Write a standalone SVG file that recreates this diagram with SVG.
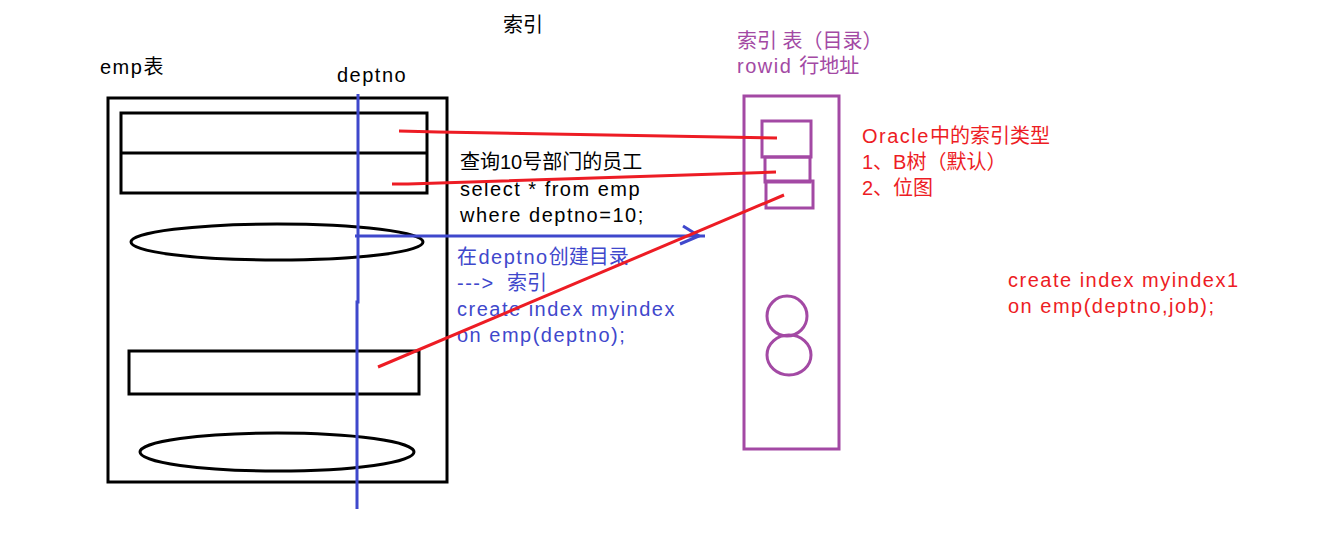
<svg xmlns="http://www.w3.org/2000/svg" width="1343" height="534" viewBox="0 0 1343 534">
<style>
text{font-family:"Liberation Sans","Noto Sans CJK SC",sans-serif;font-size:20px}
.lat{letter-spacing:1.5px}
.blk{fill:#000}
.pur{fill:#a349a4}
.red{fill:#ed1c24}
.blu{fill:#3f48cc}
.bs{fill:none;stroke:#000;stroke-width:3}
.ps{fill:none;stroke:#a349a4;stroke-width:3}
.rl{fill:none;stroke:#ed1c24;stroke-width:3}
.bl{fill:none;stroke:#3f48cc;stroke-width:3}
</style>
<rect width="1343" height="534" fill="#fff"/>
<g id="title"><text class="blk" x="503" y="32">索引</text></g>
<g id="emp-table">
<text class="blk lat" x="100" y="74">emp表</text>
<rect class="bs" x="108" y="98" width="339" height="384"/>
<rect class="bs" x="121" y="113" width="306" height="80"/>
<line class="bs" x1="121" y1="153" x2="427" y2="153"/>
<ellipse class="bs" cx="277" cy="242" rx="146" ry="18"/>
<rect class="bs" x="129" y="351" width="290" height="43"/>
<ellipse class="bs" cx="277" cy="452" rx="137" ry="19"/>
</g>
<g id="deptno-label"><text class="blk lat" x="337" y="82">deptno</text></g>
<g id="query-text">
<text class="blk" x="460" y="169">查询10号部门的员工</text>
<text class="blk lat" x="460" y="196">select * from emp</text>
<text class="blk lat" x="460" y="222">where deptno=10;</text>
</g>
<g id="create-text">
<text class="blu" x="457" y="264"><tspan class="lat">在deptno</tspan>创建目录</text>
<text class="blu" x="457" y="290"><tspan class="lat">---&gt;</tspan><tspan x="507">索引</tspan></text>
<text class="blu lat" x="457" y="316">create index myindex</text>
<text class="blu lat" x="457" y="342">on emp(deptno);</text>
</g>
<g id="index-table">
<text class="pur" x="737" y="48">索引 表（目录）</text>
<text class="pur" x="737" y="73"><tspan class="lat">rowid </tspan>行地址</text>
<rect class="ps" x="744" y="96" width="95" height="353"/>
<rect class="ps" x="762" y="121" width="49" height="36"/>
<rect class="ps" x="765" y="157" width="45" height="25"/>
<rect class="ps" x="766" y="181" width="47" height="27"/>
<ellipse class="ps" cx="787" cy="316" rx="20" ry="20"/>
<ellipse class="ps" cx="789" cy="355" rx="22" ry="20"/>
</g>
<g id="index-types">
<text class="red lat" x="862" y="143">Oracle<tspan style="letter-spacing:0">中的索引类型</tspan></text>
<text class="red" x="862" y="169">1、B树（默认）</text>
<text class="red" x="862" y="195">2、位图</text>
</g>
<g id="composite-index">
<text class="red lat" x="1008" y="287">create index myindex1</text>
<text class="red lat" x="1008" y="313">on emp(deptno,job);</text>
</g>
<g id="connectors">
<polyline class="bl" points="358,94 358,302 357,302 357,509"/>
<line class="bl" x1="355" y1="236" x2="705" y2="236"/>
<polyline class="bl" points="683,226 699,236 680,244"/>
<polyline class="rl" points="399,131 438,132 777,138"/>
<polyline class="rl" points="392,184 408,184 776,172"/>
<line class="rl" x1="378" y1="367" x2="784" y2="195"/>
</g>
</svg>
